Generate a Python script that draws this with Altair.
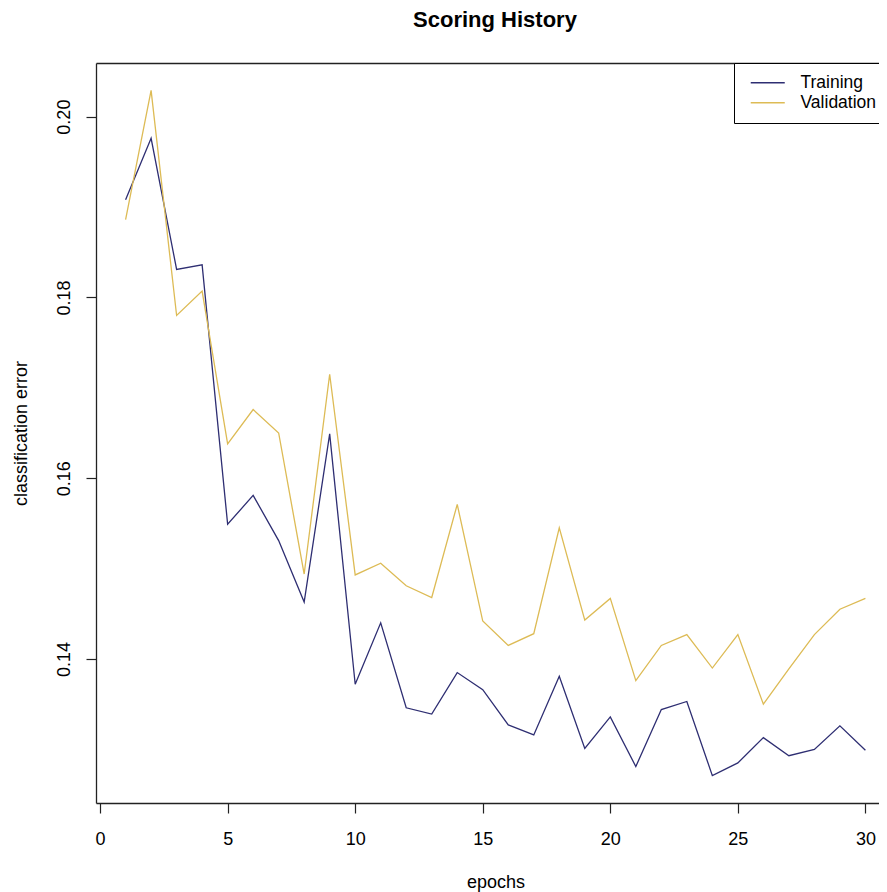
import altair as alt
import pandas as pd

# ---- data ----
epochs = list(range(1, 31))
training = [0.1908, 0.1976, 0.1831, 0.1836, 0.1549, 0.1581, 0.1531, 0.1463, 0.1649, 0.1372,
            0.1440, 0.1346, 0.1339, 0.1385, 0.1366, 0.1327, 0.1316, 0.1381, 0.1301, 0.1336,
            0.1281, 0.1344, 0.1353, 0.1271, 0.1285, 0.1313, 0.1293, 0.1300, 0.1326, 0.1299]
validation = [0.1886, 0.2029, 0.1780, 0.1807, 0.1638, 0.1676, 0.1650, 0.1494, 0.1715, 0.1493,
              0.1506, 0.1481, 0.1468, 0.1571, 0.1442, 0.1415, 0.1428, 0.1545, 0.1443, 0.1467,
              0.1376, 0.1415, 0.1427, 0.1390, 0.1427, 0.1350, 0.1389, 0.1427, 0.1455, 0.1467]
series_names = ["Training", "Validation"]
series_colors = ["#2E2E72", "#DDBB55"]
x_ticks = [0, 5, 10, 15, 20, 25, 30]
y_ticks = [0.14, 0.16, 0.18, 0.20]

rows = []
for e, t, v in zip(epochs, training, validation):
    rows.append({"epoch": e, "error": t, "series": series_names[0]})
    rows.append({"epoch": e, "error": v, "series": series_names[1]})
df = pd.DataFrame(rows)


def r_range(lo, hi):
    d = (hi - lo) * 0.04
    return lo - d, hi + d


x_lo, x_hi = r_range(min(epochs), max(epochs))
y_lo, y_hi = r_range(min(training + validation), max(training + validation))

FULL_W = 799   # width of the R plot region (right part is cut off in the reference)
PLOT_W = 783
PLOT_H = 740
x_hi_vis = x_lo + (x_hi - x_lo) * PLOT_W / FULL_W

FONT = "Liberation Sans"
x_scale = alt.Scale(domain=[x_lo, x_hi_vis], nice=False, zero=False)
y_scale = alt.Scale(domain=[y_lo, y_hi], nice=False, zero=False)

y_axis = alt.Axis(values=y_ticks, format=".2f", labelAngle=270, labelAlign="center",
                  labelBaseline="alphabetic", labelPadding=17, labelOverlap=False,
                  labelFlush=False,
                  title="classification error", titleAngle=270, titleAlign="center",
                  titleBaseline="alphabetic", titleX=-70, titleY=370)

lines = alt.Chart(df).mark_line(strokeWidth=1.3).encode(
    x=alt.X("epoch:Q", scale=x_scale,
            axis=alt.Axis(values=x_ticks, labelBaseline="alphabetic", labelPadding=31,
                          labelFlush=False, title="epochs", titleX=399.5, titleY=84,
                          titleAlign="center", titleBaseline="alphabetic")),
    y=alt.Y("error:Q", scale=y_scale, axis=y_axis),
    color=alt.Color("series:N",
                    scale=alt.Scale(domain=series_names, range=series_colors),
                    legend=alt.Legend(title=None, orient="none", legendX=638, legendY=0,
                                      direction="vertical",
                                      symbolType="M-2.43,0H2.43", symbolSize=196,
                                      symbolStrokeWidth=1.5,
                                      labelFontSize=17.5, labelFont=FONT, labelColor="black",
                                      labelOffset=24, symbolOffset=14, padding=11,
                                      rowPadding=1, strokeColor="black", fillColor="white",
                                      cornerRadius=0, labelLimit=400)),
)

top_frame = alt.Chart(df).mark_line(opacity=0).encode(
    x=alt.X("epoch:Q", scale=x_scale,
            axis=alt.Axis(orient="top", labels=False, ticks=False, domain=True, grid=False,
                          tickSize=0, labelPadding=0, title=None)),
    y=alt.Y("error:Q", scale=y_scale, axis=y_axis),
    detail="series:N",
)

chart = alt.layer(lines, top_frame).resolve_axis(x="independent").properties(
    width=PLOT_W,
    height=PLOT_H,
    autosize=alt.AutoSizeParams(type="none"),
    padding={"left": 88, "top": 55, "right": 0, "bottom": 89},
    title=alt.TitleParams("Scoring History", font=FONT, fontSize=22, fontWeight="bold",
                          anchor="middle", baseline="alphabetic", offset=36, dx=7.5, dy=22,
                          color="black"),
).configure_axis(
    labelFont=FONT, titleFont=FONT, labelFontSize=18, titleFontSize=18,
    labelColor="black", titleColor="black", titleFontWeight="normal",
    domainColor="#222222", tickColor="#222222", domainWidth=1.3, tickWidth=1.2,
    tickSize=10, grid=False,
).configure_view(stroke="transparent")

chart.save("out.html", embed_options={"renderer": "svg", "actions": False})
